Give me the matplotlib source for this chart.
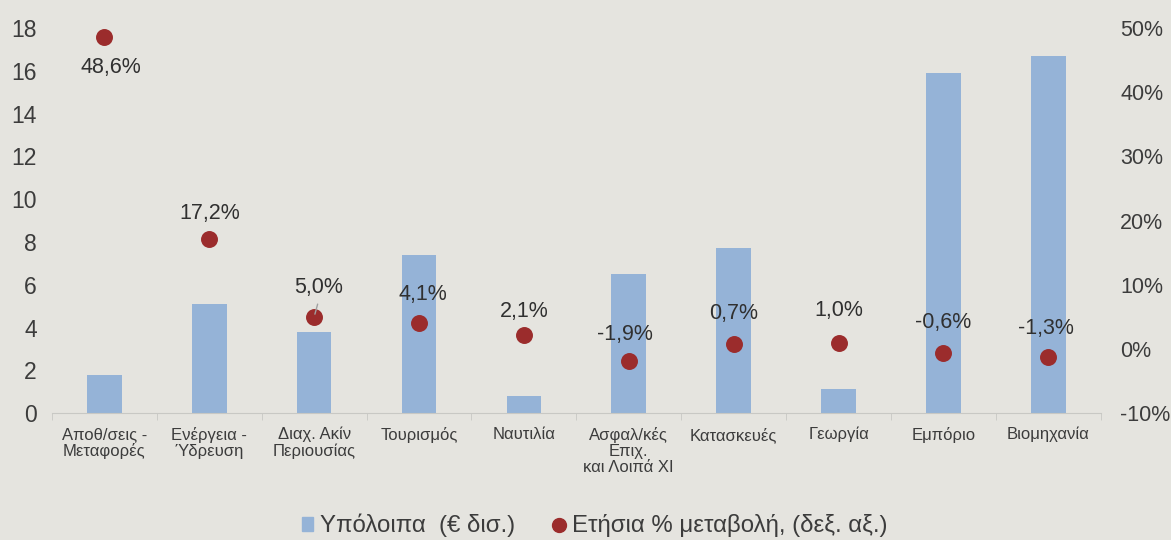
import numpy as np
import matplotlib
matplotlib.use("Agg")
import matplotlib.pyplot as plt
from matplotlib.lines import Line2D
from matplotlib.patches import Patch

plt.rcParams["font.family"] = ["Liberation Sans", "DejaVu Sans"]

categories = ["Αποθ/σεις -\nΜεταφορές", "Ενέργεια -\nΎδρευση", "Διαχ. Ακίν\nΠεριουσίας",
              "Τουρισμός", "Ναυτιλία", "Ασφαλ/κές\nΕπιχ.\nκαι Λοιπά ΧΙ", "Κατασκευές",
              "Γεωργία", "Εμπόριο", "Βιομηχανία"]
balances = [1.8, 5.1, 3.8, 7.4, 0.8, 6.5, 7.7, 1.15, 15.9, 16.7]
change = [48.6, 17.2, 5.0, 4.1, 2.1, -1.9, 0.7, 1.0, -0.6, -1.3]
# label offsets in points (x, y)
label_offsets = [(5, -22), (0, 18), (3, 21), (3, 20), (0, 17), (-3, 19), (0, 22), (0, 23), (0, 22), (-2, 21)]

bg = "#e5e4df"
bar_c = "#95b3d7"
dot_c = "#9b2c2c"
txt_c = "#3c3c3c"

fig = plt.figure(figsize=(11.71, 5.4), dpi=100, facecolor=bg)
ax = fig.add_axes([0.0444, 0.235, 0.8956, 0.713], facecolor=bg)
x = np.arange(len(categories))
ax.bar(x, balances, width=0.33, color=bar_c, zorder=2)
ax.set_xlim(-0.5, len(categories) - 0.5)
ax.set_ylim(0, 18)
ax.set_yticks(range(0, 19, 2))
for s in ["top", "right", "left"]:
    ax.spines[s].set_visible(False)
ax.spines["bottom"].set_color("#c8c8c4")
ax.tick_params(axis="y", length=0, labelsize=16.5, labelcolor=txt_c, pad=11)
ax.set_xticks(x)
ax.set_xticklabels(categories, fontsize=12, color=txt_c, linespacing=1.1)
ax.tick_params(axis="x", length=0, pad=10)
ax.set_xticks(np.arange(-0.5, len(categories)), minor=True)
ax.tick_params(axis="x", which="minor", length=5, color="#c8c8c4")

ax2 = ax.twinx()
ax2.set_ylim(-10, 50)
ax2.set_yticks(range(-10, 51, 10))
ax2.set_yticklabels([f"{v}%" for v in range(-10, 51, 10)])
for s in ["top", "right", "left", "bottom"]:
    ax2.spines[s].set_visible(False)
ax2.tick_params(axis="y", length=0, labelsize=15.5, labelcolor=txt_c, pad=14)
ax2.scatter(x, change, s=125, color=dot_c, zorder=3)

for i, v in enumerate(change):
    dx, dy = label_offsets[i]
    ax2.annotate(f"{v:.1f}%".replace(".", ","), (x[i], v), xytext=(dx, dy),
                 textcoords="offset points", ha="center", va="center",
                 fontsize=15.5, color="#303030", zorder=4)
# leader line for Διαχ. Ακίν
ax2.annotate("", (x[2], change[2]), xytext=(x[2] + 0.04, change[2] + 2.4),
             arrowprops=dict(arrowstyle="-", color="#a0a0a0", lw=1))

handles = [Patch(color=bar_c), Line2D([], [], marker="o", ls="", color=dot_c, markersize=10)]
fig.legend(handles, ["Υπόλοιπα  (€ δισ.)", "Ετήσια % μεταβολή, (δεξ. αξ.)"],
           loc="lower center", bbox_to_anchor=(0.508, -0.035), ncol=2, frameon=False,
           fontsize=17.3, handlelength=0.45, handleheight=0.5, handletextpad=0.3,
           columnspacing=1.6, labelcolor=txt_c)

fig.savefig("out.png", dpi=100, facecolor=bg)
